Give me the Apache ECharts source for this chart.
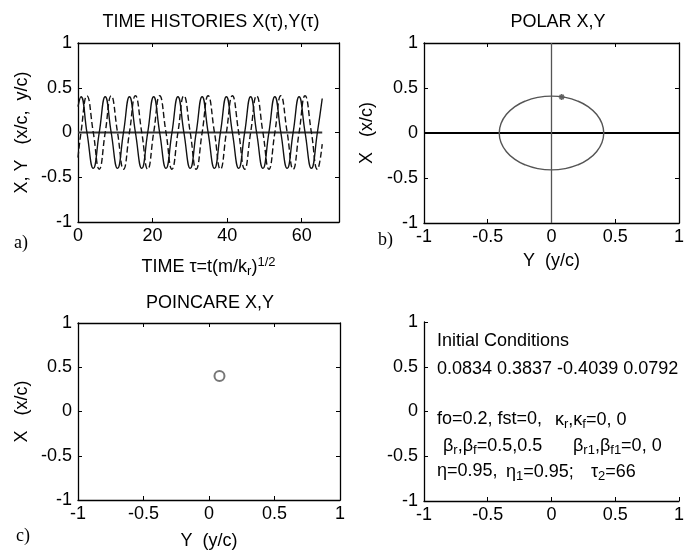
<!DOCTYPE html>
<html>
<head>
<meta charset="utf-8">
<script src="https://cdn.jsdelivr.net/npm/echarts@6/dist/echarts.min.js"></script>
<style>
html, body { margin: 0; padding: 0; background: #fff; }
#main { width: 687px; height: 551px; }
</style>
</head>
<body>
<div id="main"></div>
<script>
// panel a: time histories, peaks / zero crossings / troughs
var tau = [0, 0.8, 2.4, 4.1, 5.7, 7.3, 8.9, 10.6, 12.2, 13.8, 15.4, 17.1, 18.7, 20.3, 21.9, 23.6, 25.2,
	26.8, 28.4, 30.1, 31.7, 33.3, 34.9, 36.6, 38.2, 39.8, 41.4, 43.1, 44.7, 46.3, 47.9, 49.6, 51.2,
	52.8, 54.4, 56.1, 57.7, 59.3, 60.9, 62.6, 64.2, 65.5];
var xHist = [0.29, 0.40, 0, -0.40, 0, 0.40, 0, -0.40, 0, 0.40, 0, -0.40, 0, 0.40, 0, -0.40, 0,
	0.40, 0, -0.40, 0, 0.40, 0, -0.40, 0, 0.40, 0, -0.40, 0, 0.40, 0, -0.40, 0,
	0.40, 0, -0.40, 0, 0.40, 0, -0.40, 0, 0.38];
var yHist = [-0.28, 0, 0.41, 0, -0.41, 0, 0.41, 0, -0.41, 0, 0.41, 0, -0.41, 0, 0.41, 0, -0.41,
	0, 0.41, 0, -0.41, 0, 0.41, 0, -0.41, 0, 0.41, 0, -0.41, 0, 0.41, 0, -0.41,
	0, 0.41, 0, -0.41, 0, 0.41, 0, -0.41, -0.13];

// panel b: orbit (horizontal Y, vertical X)
var polarY = [0.41, 0.396, 0.355, 0.29, 0.205, 0.106, 0, -0.106, -0.205, -0.29, -0.355, -0.396, -0.41,
	-0.396, -0.355, -0.29, -0.205, -0.106, 0, 0.106, 0.205, 0.29, 0.355, 0.396, 0.41];
var polarX = [0, 0.106, 0.205, 0.29, 0.355, 0.396, 0.41, 0.396, 0.355, 0.29, 0.205, 0.106, 0,
	-0.106, -0.205, -0.29, -0.355, -0.396, -0.41, -0.396, -0.355, -0.29, -0.205, -0.106, 0];
var startPoint = [0.08, 0.40];

// panel c
var poincarePoint = [0.08, 0.40];

// tick values
var timeTicks = [0, 20, 40, 60];
var timeMax = 70;
var unitTicks = [-1, -0.5, 0, 0.5, 1];

var font = 'Liberation Sans, Arial, sans-serif';
var serif = 'Liberation Serif, DejaVu Serif, serif';

var richSub = {
	n: { fontSize: 18, fontFamily: font, color: '#000', lineHeight: 22 },
	s: { fontSize: 13, fontFamily: font, color: '#000', lineHeight: 12, verticalAlign: 'bottom' },
	p: { fontSize: 13, fontFamily: font, color: '#000', lineHeight: 12, verticalAlign: 'top' }
};

function axis(grid, ticks, max, pos, labels) {
	return {
		type: 'value',
		gridIndex: grid,
		min: ticks[0],
		max: max,
		interval: ticks[1] - ticks[0],
		position: pos,
		axisLine: { show: true, onZero: false, lineStyle: { color: '#000', width: 1.3 } },
		axisTick: { show: true, inside: true, length: 4, lineStyle: { color: '#000', width: 1 } },
		axisLabel: {
			show: labels, color: '#000', fontSize: 18, fontFamily: font,
			margin: (pos == 'bottom') ? 5 : 6,
			showMaxLabel: max == ticks[ticks.length - 1]
		},
		splitLine: { show: false }
	};
}

var xAxes = [
	axis(0, timeTicks, timeMax, 'bottom', true),
	axis(0, timeTicks, timeMax, 'top', false),
	axis(1, unitTicks, 1, 'bottom', true),
	axis(1, unitTicks, 1, 'top', false),
	axis(2, unitTicks, 1, 'bottom', true),
	axis(2, unitTicks, 1, 'top', false),
	axis(3, unitTicks, 1, 'bottom', true)
];
var yAxes = [
	axis(0, unitTicks, 1, 'left', true),
	axis(0, unitTicks, 1, 'right', false),
	axis(1, unitTicks, 1, 'left', true),
	axis(1, unitTicks, 1, 'right', false),
	axis(2, unitTicks, 1, 'left', true),
	axis(2, unitTicks, 1, 'right', false),
	axis(3, unitTicks, 1, 'left', true)
];

// axis names
function setName(ax, name, gap, rich) {
	ax.name = name;
	ax.nameLocation = 'middle';
	ax.nameGap = gap;
	ax.nameTextStyle = { fontSize: 18, fontFamily: font, color: '#000' };
	if (rich) ax.nameTextStyle.rich = richSub;
}
setName(xAxes[0], '{n|TIME τ=t(m/k}{s|r}{n|)}{p|1/2}', 34, true);
setName(xAxes[2], 'Y  (y/c)', 29);
setName(xAxes[4], 'Y  (y/c)', 32);
setName(yAxes[0], 'X, Y   (x/c,  y/c)', 47);
setName(yAxes[2], 'X   (x/c)', 48);
setName(yAxes[4], 'X   (x/c)', 47);

function pairs(xs, ys) {
	var out = [];
	for (var i = 0; i < xs.length; i++) out.push([xs[i], ys[i]]);
	return out;
}

var titleStyle = { fontSize: 18, fontWeight: 'normal', fontFamily: font, color: '#000' };

function label(text, x, y, extra) {
	var st = { text: text, fontSize: 18, fontFamily: font, fill: '#000', textVerticalAlign: 'middle', textAlign: 'left' };
	for (var k in extra) st[k] = extra[k];
	return { type: 'text', x: x, y: y, style: st };
}

var myChart = echarts.init(document.getElementById('main'));
var option = {
	animation: false,
	backgroundColor: '#fff',
	title: [
		{ text: 'TIME HISTORIES X(τ),Y(τ)', left: 206, top: 8, textAlign: 'center', textStyle: titleStyle },
		{ text: 'POLAR X,Y', left: 553, top: 8, textAlign: 'center', textStyle: titleStyle },
		{ text: 'POINCARE X,Y', left: 205, top: 289, textAlign: 'center', textStyle: titleStyle }
	],
	grid: [
		{ left: 78, top: 43, width: 261, height: 179 },
		{ left: 424, top: 43, width: 259, height: 180 },
		{ left: 78, top: 323, width: 262, height: 180 },
		{ left: 424, top: 322, width: 259, height: 179 }
	],
	xAxis: xAxes,
	yAxis: yAxes,
	series: [
		{
			type: 'line', xAxisIndex: 0, yAxisIndex: 0,
			data: pairs([tau[0], tau[tau.length - 1]], [0, 0]),
			showSymbol: false, lineStyle: { color: '#333', width: 2 }
		},
		{
			type: 'line', xAxisIndex: 0, yAxisIndex: 0, data: pairs(tau, xHist),
			smooth: true, showSymbol: false, lineStyle: { color: '#111', width: 1.4 }
		},
		{
			type: 'line', xAxisIndex: 0, yAxisIndex: 0, data: pairs(tau, yHist),
			smooth: true, showSymbol: false, lineStyle: { color: '#111', width: 1.4, type: [6, 3] }
		},
		{
			type: 'line', xAxisIndex: 2, yAxisIndex: 2, data: pairs([-1, 1], [0, 0]),
			showSymbol: false, lineStyle: { color: '#000', width: 2 }
		},
		{
			type: 'line', xAxisIndex: 2, yAxisIndex: 2, data: pairs([0, 0], [-1, 1]),
			showSymbol: false, lineStyle: { color: '#555', width: 1.3 }
		},
		{
			type: 'line', xAxisIndex: 2, yAxisIndex: 2, data: pairs(polarY, polarX),
			smooth: true, showSymbol: false, lineStyle: { color: '#555', width: 1.4 }
		},
		{
			type: 'scatter', xAxisIndex: 2, yAxisIndex: 2, data: [startPoint],
			symbol: 'path://M5,0L5,10M0,5L10,5M1.5,1.5L8.5,8.5M1.5,8.5L8.5,1.5', symbolSize: 6,
			itemStyle: { color: 'none', borderColor: '#444', borderWidth: 1.5 }
		},
		{
			type: 'scatter', xAxisIndex: 4, yAxisIndex: 4, data: [poincarePoint],
			symbol: 'emptyCircle', symbolSize: 10,
			itemStyle: { color: '#555', borderColor: '#555', borderWidth: 1.5 }
		}
	],
	graphic: [
		label('a)', 14, 243, { fontFamily: serif, fontSize: 18 }),
		label('b)', 378, 240, { fontFamily: serif, fontSize: 18 }),
		label('c)', 16, 536, { fontFamily: serif, fontSize: 18 }),
		label('Initial Conditions', 437, 341),
		label('0.0834 0.3837 -0.4039 0.0792', 437, 369),
		label('fo=0.2, fst=0,', 437, 419),
		label('{n|κ}{s|r}{n|,κ}{s|f}{n|=0, 0}', 555, 420, { rich: richSub }),
		label('{n|β}{s|r}{n|,β}{s|f}{n|=0.5,0.5}', 443, 446, { rich: richSub }),
		label('{n|β}{s|r1}{n|,β}{s|f1}{n|=0, 0}', 573, 446, { rich: richSub }),
		label('η=0.95,', 437, 471),
		label('{n|η}{s|1}{n|=0.95;}', 506, 472, { rich: richSub }),
		label('{n|τ}{s|2}{n|=66}', 591, 472, { rich: richSub })
	]
};
myChart.setOption(option);
</script>
</body>
</html>
